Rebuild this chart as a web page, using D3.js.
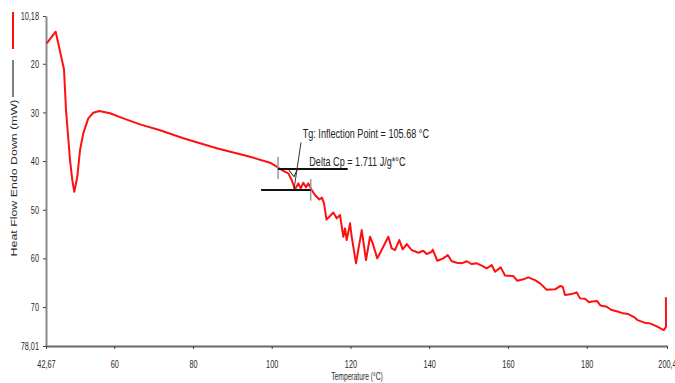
<!DOCTYPE html>
<html>
<head>
<meta charset="utf-8">
<script src="https://cdn.jsdelivr.net/npm/d3@7"></script>
<style>
  html, body { margin: 0; padding: 0; background: #fff; overflow: hidden; }
  text { font-family: "Liberation Sans", Arial, Helvetica, sans-serif; }
</style>
</head>
<body>
<svg id="chart" width="675" height="383"></svg>
<script>
// DSC heating scan: temperature (°C) and heat flow (mW, endo down)
const temperature = [
  42.85, 45.13, 47.24, 47.75, 48.77, 49.35, 49.86, 50.62, 51.31, 52.14,
  53.41, 54.68, 56.21, 58.93, 62.30, 66.55, 71.45, 77.54, 86.03, 94.49,
  99.57, 101.27, 102.54, 104.22, 105.08, 105.92, 106.76, 107.37, 108.03, 108.71,
  109.29, 110.16, 111.00, 112.09, 112.77, 113.28, 113.92, 114.63, 115.65, 116.51,
  117.35, 118.19, 118.62, 119.05, 119.89, 120.32, 121.41, 122.86, 123.95, 124.97,
  125.65, 126.82, 128.34, 129.61, 130.48, 131.32, 132.41, 133.27, 134.29, 135.56,
  137.24, 138.50, 139.37, 140.64, 140.89, 142.06, 143.58, 144.70, 145.72, 146.99,
  148.26, 149.53, 150.80, 152.07, 153.34, 154.61, 155.88, 156.72, 158.17, 159.26,
  161.36, 162.38, 163.90, 165.17, 166.88, 168.15, 169.85, 171.96, 173.23, 173.91,
  174.50, 176.20, 177.47, 178.31, 179.58, 180.59, 181.35, 182.62, 183.51, 185.09,
  186.18, 188.03, 189.23, 190.58, 192.02, 192.91, 195.07, 196.09, 197.79, 199.59,
  200.15, 200.12
];
const heatFlow = [
  15.79, 13.41, 21.14, 29.51, 39.79, 43.90, 46.30, 43.22, 37.73, 34.30,
  31.21, 30.06, 29.71, 30.18, 31.21, 32.45, 33.62, 35.32, 37.38, 39.11,
  40.34, 41.16, 41.84, 42.52, 43.90, 45.81, 44.58, 45.60, 44.45, 45.40,
  44.58, 45.95, 46.98, 47.91, 47.50, 48.69, 52.02, 51.44, 50.58, 51.77,
  51.09, 55.55, 53.83, 56.23, 52.80, 55.55, 61.02, 54.18, 60.35, 55.55,
  56.91, 60.00, 57.61, 55.55, 57.94, 58.29, 56.23, 58.15, 57.06, 58.29,
  58.85, 58.43, 59.11, 58.64, 58.19, 60.49, 60.00, 59.32, 60.59, 60.90,
  61.02, 60.59, 61.17, 61.02, 61.48, 62.05, 61.37, 62.75, 61.85, 63.53,
  63.64, 64.60, 64.31, 63.90, 64.46, 65.14, 66.45, 66.37, 65.69, 65.83,
  67.54, 67.34, 66.99, 68.22, 68.32, 69.02, 68.88, 68.74, 69.70, 69.95,
  70.56, 70.97, 71.30, 71.45, 72.07, 72.68, 73.30, 73.36, 73.98, 74.74,
  74.06, 68.00
];

// Axis ticks and their printed labels
const xTicks = [42.67, 60, 80, 100, 120, 140, 160, 180, 200.4];
const xTickLabels = ["42,67", "60", "80", "100", "120", "140", "160", "180", "200,4"];
const yTicks = [10.18, 20, 30, 40, 50, 60, 70, 78.01];
const yTickLabels = ["10,18", "20", "30", "40", "50", "60", "70", "78,01"];

// Glass transition analysis results
const tgInflection = 105.68;   // °C
const deltaCp = 1.711;         // J/g*°C
const onsetBaseline = [[101.6, 41.64], [119.3, 41.64]];
const endBaseline = [[97.3, 45.95], [109.9, 45.95]];
const onsetLimit = [[101.6, 39.1], [101.6, 43.7]];
const endLimit = [[109.9, 43.7], [109.9, 48.15]];
const inflectionMarker = [[104.22, 41.7], [105.68, 43.22], [106.5, 41.7]];
const leaderLine = [[107.44, 36.15], [105.68, 45.75]];

const svg = d3.select("#chart");
const x = d3.scaleLinear().domain([42.67, 200.4]).range([46, 667]);
const y = d3.scaleLinear().domain([10.18, 78.01]).range([16, 346]);
const squeeze = 0.7;

// Axes
const yAxis = svg.append("g")
  .attr("transform", "translate(46,0)")
  .call(d3.axisLeft(y).tickValues(yTicks)
    .tickFormat((d, i) => yTickLabels[i]).tickSize(3).tickSizeOuter(0));
yAxis.select(".domain").attr("stroke", "#8a8a8a").attr("stroke-width", 2);
yAxis.selectAll(".tick line").attr("stroke", "#444");
yAxis.selectAll(".tick text")
  .attr("fill", "#2a2a2a").style("font-size", "10.5px")
  .attr("transform", `scale(${squeeze},1)`)
  .attr("x", -7 / squeeze).attr("dy", "0.34em");

const xAxis = svg.append("g")
  .attr("transform", "translate(0,346)")
  .call(d3.axisBottom(x).tickValues(xTicks)
    .tickFormat((d, i) => xTickLabels[i]).tickSize(3).tickSizeOuter(0));
xAxis.select(".domain").attr("stroke", "#6a6a6a").attr("stroke-width", 2);
xAxis.selectAll(".tick line").attr("stroke", "#444");
xAxis.selectAll(".tick text")
  .attr("fill", "#2a2a2a").style("font-size", "10.5px")
  .attr("y", 14.7)
  .attr("transform", `scale(${squeeze},1)`)
  .each(function () {
    const t = d3.select(this.parentNode).attr("transform");
    const tx = +t.match(/translate\(([-\d.]+)/)[1];
    // keep the label centred under its tick despite the squeeze
    d3.select(this.parentNode).attr("transform", `translate(${tx},0)`);
  });

// Axis titles
svg.append("text")
  .attr("transform", `translate(357,380) scale(0.64,1)`)
  .attr("text-anchor", "middle")
  .style("font-size", "10.5px").attr("fill", "#2a2a2a")
  .text("Temperature (°C)");

svg.append("text")
  .attr("transform", "translate(17,178) rotate(-90) scale(1,0.7)")
  .attr("text-anchor", "middle")
  .style("font-size", "12.4px").attr("fill", "#2a2a2a")
  .text("Heat Flow Endo Down (mW)");

// Series key at the far left
svg.append("line").attr("x1", 13).attr("x2", 13).attr("y1", 12).attr("y2", 49)
  .attr("stroke", "#ff1010").attr("stroke-width", 2);
svg.append("line").attr("x1", 13).attr("x2", 13).attr("y1", 60).attr("y2", 97)
  .attr("stroke", "#555").attr("stroke-width", 1.5);

// Heat flow curve
const line = d3.line().x(d => x(d[0])).y(d => y(d[1]));
const curve = temperature.map((t, i) => [t, heatFlow[i]]);
svg.append("path")
  .datum(curve)
  .attr("fill", "none")
  .attr("stroke", "#ff1010")
  .attr("stroke-width", 2)
  .attr("stroke-linejoin", "round")
  .attr("d", line);

// Tg construction
const seg = (pts, color, w) => svg.append("path")
  .attr("d", line(pts)).attr("fill", "none")
  .attr("stroke", color).attr("stroke-width", w);
seg(onsetLimit, "#9a9a9a", 1.5);
seg(endLimit, "#9a9a9a", 1.5);
seg(onsetBaseline, "#111", 2);
seg(endBaseline, "#111", 2);
svg.append("path")
  .attr("d", line(inflectionMarker) + "Z")
  .attr("fill", "none").attr("stroke", "#111").attr("stroke-width", 1);
seg(leaderLine, "#333", 1);

svg.append("text")
  .attr("transform", `translate(302.7,138.3) scale(${squeeze},1)`)
  .style("font-size", "13px").attr("fill", "#222")
  .text(`Tg: Inflection Point = ${tgInflection.toFixed(2)} °C`);
svg.append("text")
  .attr("transform", `translate(309.3,166) scale(${squeeze},1)`)
  .style("font-size", "13px").attr("fill", "#222")
  .text(`Delta Cp = ${deltaCp.toFixed(3)} J/g*°C`);
</script>
</body>
</html>
